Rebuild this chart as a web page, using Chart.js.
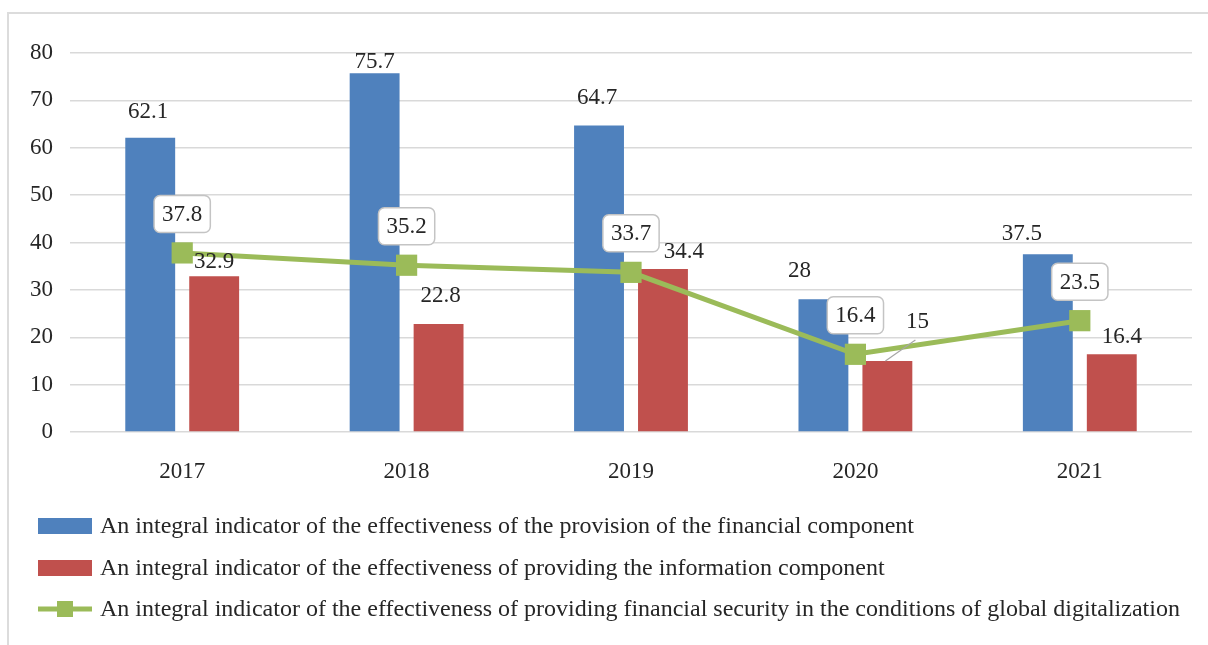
<!DOCTYPE html>
<html lang="en">
<head>
    <meta charset="UTF-8">
    <title>Integral indicators 2017-2021</title>
    <script src="https://cdn.jsdelivr.net/npm/chart.js"></script>
</head>
<body style="margin:0;background:#fff;">
    <canvas id="chart" width="1208" height="645" style="display:block;"></canvas>
    <script>
        // Values
        const years = ['2017', '2018', '2019', '2020', '2021'];
        const financialValues = [62.1, 75.7, 64.7, 28, 37.5];
        const informationValues = [32.9, 22.8, 34.4, 15, 16.4];
        const securityValues = [37.8, 35.2, 33.7, 16.4, 23.5];
        const legendLabels = [
            'An integral indicator of the effectiveness of the provision of the financial component',
            'An integral indicator of the effectiveness of providing the information component',
            'An integral indicator of the effectiveness of providing financial security in the conditions of global digitalization'
        ];

        const BLUE = '#4f81bd', RED = '#c0504d', GREEN = '#9bbb59';
        const FONT = '"Liberation Serif", "Times New Roman", serif';
        const TEXT = '#262626';

        // Label placement tweaks (Excel moved some labels to avoid overlaps)
        const blueLabelLift = [26, 12, 28, 28, 20];
        const blueLabelShift = [-2, 0, -2, -24, -26];
        const redLabelLift = [14, 28, 17, 39, 17];
        const redLabelShift = [0, 2, 21, 30, 10];
        const leaderLines = [false, false, false, true, false];

        const labelsPlugin = {
            id: 'valueLabels',
            beforeDraw(chart) {
                const ctx = chart.ctx;
                ctx.save();
                ctx.fillStyle = '#fff';
                ctx.fillRect(0, 0, chart.width, chart.height);
                ctx.strokeStyle = '#dcdcdc';
                ctx.lineWidth = 2;
                ctx.strokeRect(8, 13, chart.width + 20, chart.height + 20);
                ctx.restore();
            },
            afterDatasetsDraw(chart) {
                const ctx = chart.ctx;
                const top = chart.chartArea.top;
                ctx.save();
                ctx.font = '23px ' + FONT;
                ctx.fillStyle = TEXT;
                ctx.textAlign = 'center';
                ctx.textBaseline = 'middle';

                chart.getDatasetMeta(0).data.forEach((bar, i) => {
                    const y = Math.max(bar.y - blueLabelLift[i], top + 9);
                    ctx.fillText(String(financialValues[i]), bar.x + blueLabelShift[i], y);
                });

                chart.getDatasetMeta(1).data.forEach((bar, i) => {
                    const lx = bar.x + redLabelShift[i];
                    const ly = bar.y - redLabelLift[i];
                    if (leaderLines[i]) {
                        ctx.strokeStyle = '#a6a6a6';
                        ctx.lineWidth = 1.2;
                        ctx.beginPath();
                        ctx.moveTo(bar.x - 2, bar.y);
                        ctx.lineTo(lx - 2, ly + 18);
                        ctx.stroke();
                    }
                    ctx.fillText(String(informationValues[i]), lx, ly);
                });

                chart.getDatasetMeta(2).data.forEach((pt, i) => {
                    const txt = String(securityValues[i]);
                    const w = ctx.measureText(txt).width + 16;
                    const h = 37;
                    const cx = pt.x, cy = pt.y - 39;
                    ctx.beginPath();
                    ctx.roundRect(cx - w / 2, cy - h / 2, w, h, 6);
                    ctx.fillStyle = '#fff';
                    ctx.fill();
                    ctx.strokeStyle = '#c4c4c4';
                    ctx.lineWidth = 1.5;
                    ctx.stroke();
                    ctx.fillStyle = TEXT;
                    ctx.fillText(txt, cx, cy + 1);
                });
                ctx.restore();
            },
            afterDraw(chart) {
                // legend, one entry per row as in the original
                const ctx = chart.ctx;
                const rows = [526, 568, 609];
                ctx.save();
                ctx.font = '24px ' + FONT;
                ctx.textAlign = 'left';
                ctx.textBaseline = 'middle';
                ctx.fillStyle = BLUE;
                ctx.fillRect(38, rows[0] - 8, 54, 16);
                ctx.fillStyle = RED;
                ctx.fillRect(38, rows[1] - 8, 54, 16);
                ctx.strokeStyle = GREEN;
                ctx.lineWidth = 5;
                ctx.beginPath();
                ctx.moveTo(38, rows[2]);
                ctx.lineTo(92, rows[2]);
                ctx.stroke();
                ctx.fillStyle = GREEN;
                ctx.fillRect(57, rows[2] - 8, 16, 16);
                ctx.fillStyle = TEXT;
                legendLabels.forEach((t, i) => ctx.fillText(t, 100, rows[i] + 1));
                ctx.restore();
            }
        };

        new Chart(document.getElementById('chart'), {
            type: 'bar',
            data: {
                labels: years,
                datasets: [
                    {
                        label: legendLabels[0],
                        data: financialValues,
                        backgroundColor: BLUE,
                        categoryPercentage: 0.57,
                        barPercentage: 0.78,
                        order: 2
                    },
                    {
                        label: legendLabels[1],
                        data: informationValues,
                        backgroundColor: RED,
                        categoryPercentage: 0.57,
                        barPercentage: 0.78,
                        order: 2
                    },
                    {
                        type: 'line',
                        label: legendLabels[2],
                        data: securityValues,
                        borderColor: GREEN,
                        backgroundColor: GREEN,
                        borderWidth: 5,
                        pointStyle: 'rect',
                        pointRadius: 15,
                        pointBorderWidth: 0,
                        tension: 0,
                        order: 1
                    }
                ]
            },
            options: {
                responsive: false,
                animation: false,
                devicePixelRatio: 1,
                layout: { padding: { top: 53, right: 16, bottom: 153, left: 0 } },
                plugins: {
                    legend: { display: false },
                    tooltip: { enabled: false }
                },
                scales: {
                    x: {
                        grid: { display: false },
                        border: { display: false },
                        ticks: { color: TEXT, font: { family: FONT, size: 23 }, padding: 18 },
                        afterFit: s => { s.height = 60; }
                    },
                    y: {
                        min: 0,
                        max: 80,
                        ticks: { stepSize: 10, color: TEXT, font: { family: FONT, size: 23 }, padding: 17 },
                        grid: { color: '#d9d9d9', lineWidth: 1.5, drawTicks: false },
                        border: { display: false },
                        afterFit: s => { s.width = 70; }
                    }
                }
            },
            plugins: [labelsPlugin]
        });
    </script>
</body>
</html>
